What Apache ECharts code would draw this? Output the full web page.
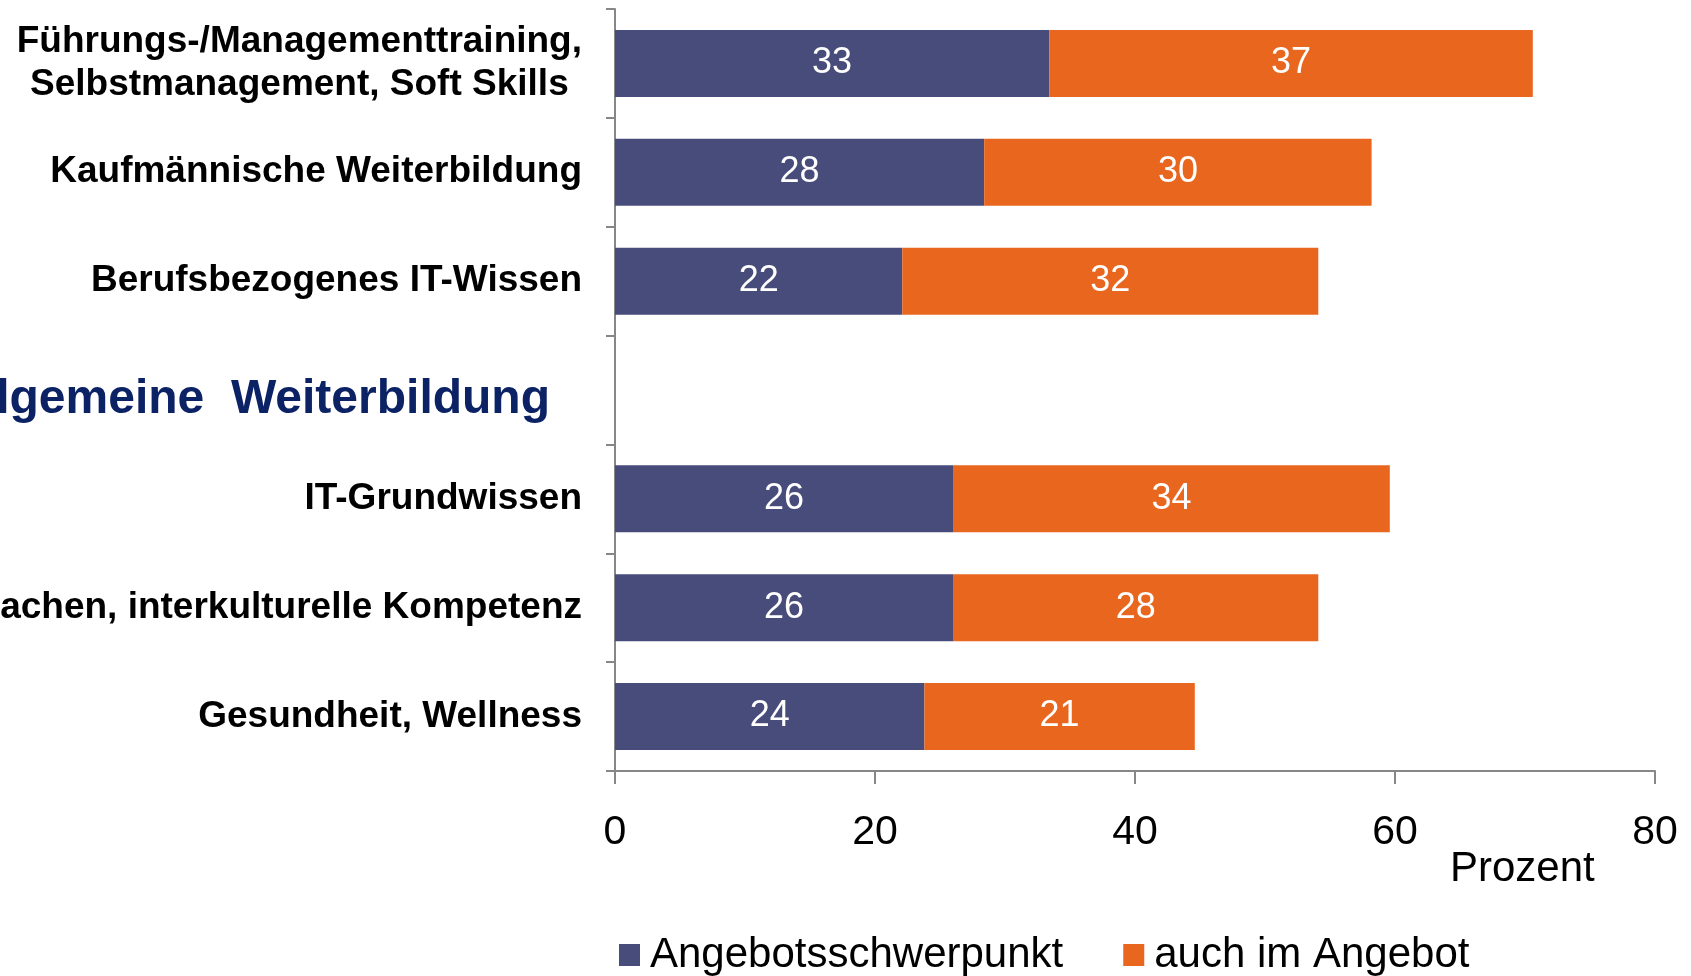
<!DOCTYPE html>
<html lang="de">
<head>
    <meta charset="UTF-8">
    <title>Weiterbildungsangebot</title>
    <script src="https://cdn.jsdelivr.net/npm/echarts@6/dist/echarts.min.js"></script>
    <style>
        * { margin: 0; padding: 0; }
        html, body { width: 100%; height: 100%; background: #fff; }
    </style>
</head>
<body>
<div id="main" style="width: 1691px;height: 976px"></div>
<script>
    // Kategorien (von oben nach unten), die leere Zeile ist die Zwischenüberschrift
    var categories = [
        'Führungs-/Managementtraining,\nSelbstmanagement, Soft Skills',
        'Kaufmännische Weiterbildung',
        'Berufsbezogenes IT-Wissen',
        'Allgemeine  Weiterbildung',
        'IT-Grundwissen',
        'Sprachen, interkulturelle Kompetenz',
        'Gesundheit, Wellness'
    ];
    var schwerpunkt = [33.4, 28.4, 22.1, null, 26.0, 26.0, 23.8];
    var auchImAngebot = [37.2, 29.8, 32.0, null, 33.6, 28.1, 20.8];
    var seriesNames = ['Angebotsschwerpunkt', 'auch im Angebot'];
    var xTicks = [0, 20, 40, 60, 80];

    var HEADER = 'Allgemeine  Weiterbildung';
    var FONT = "'Liberation Sans', Arial, sans-serif";

    var myChart = echarts.init(document.getElementById('main'));

    var option = {
        animation: false,
        textStyle: { fontFamily: FONT },
        grid: { left: 615, right: 36, top: 9, bottom: 205, containLabel: false, outerBoundsMode: 'none' },
        legend: {
            data: seriesNames,
            left: 614,
            top: 929,
            icon: 'rect',
            itemWidth: 21,
            itemHeight: 22,
            itemGap: 60,
            textStyle: { fontSize: 42, color: '#000', fontFamily: FONT, padding: [0, 0, 0, 5] }
        },
        xAxis: {
            type: 'value',
            min: xTicks[0],
            max: xTicks[xTicks.length - 1],
            interval: 20,
            splitLine: { show: false },
            axisLine: { show: true, lineStyle: { color: '#878787', width: 2 } },
            axisTick: { show: true, length: 13, lineStyle: { color: '#878787', width: 2 } },
            axisLabel: { margin: 41, fontSize: 41, color: '#000', fontFamily: FONT }
        },
        yAxis: {
            type: 'category',
            inverse: true,
            data: categories,
            axisLine: { show: true, lineStyle: { color: '#878787', width: 2 } },
            axisTick: { show: true, length: 9, lineStyle: { color: '#878787', width: 2 } },
            axisLabel: {
                margin: 33,
                color: '#000',
                fontFamily: FONT,
                fontSize: 37,
                fontWeight: 'bold',
                lineHeight: 43,
                formatter: function (v) {
                    if (v === HEADER) return '{h|' + v + '}';
                    return v.split('\n').map(function (s) { return '{c|' + s + '}'; }).join('\n');
                },
                rich: {
                    c: { fontSize: 37, fontWeight: 'bold', color: '#000', fontFamily: FONT, lineHeight: 43, align: 'center' },
                    h: { fontSize: 48, fontWeight: 'bold', color: '#0b2265', fontFamily: FONT, padding: [20, 32, 0, 0] }
                }
            }
        },
        series: [
            {
                name: seriesNames[0],
                type: 'bar',
                stack: 'gesamt',
                barWidth: 67,
                data: schwerpunkt,
                itemStyle: { color: '#484c7a' },
                label: {
                    show: true, position: 'inside', color: '#fff', fontSize: 36, fontFamily: FONT,
                    padding: [4, 0, 0, 0],
                    formatter: function (p) { return Math.round(p.value); }
                }
            },
            {
                name: seriesNames[1],
                type: 'bar',
                stack: 'gesamt',
                barWidth: 67,
                data: auchImAngebot,
                itemStyle: { color: '#e9661f' },
                label: {
                    show: true, position: 'inside', color: '#fff', fontSize: 36, fontFamily: FONT,
                    padding: [4, 0, 0, 0],
                    formatter: function (p) { return Math.round(p.value); }
                }
            }
        ],
        graphic: [{
            type: 'text',
            left: 1450,
            top: 848,
            style: { text: 'Prozent', fontSize: 42, fontFamily: FONT, fill: '#000' }
        }]
    };

    myChart.setOption(option);
</script>
</body>
</html>
